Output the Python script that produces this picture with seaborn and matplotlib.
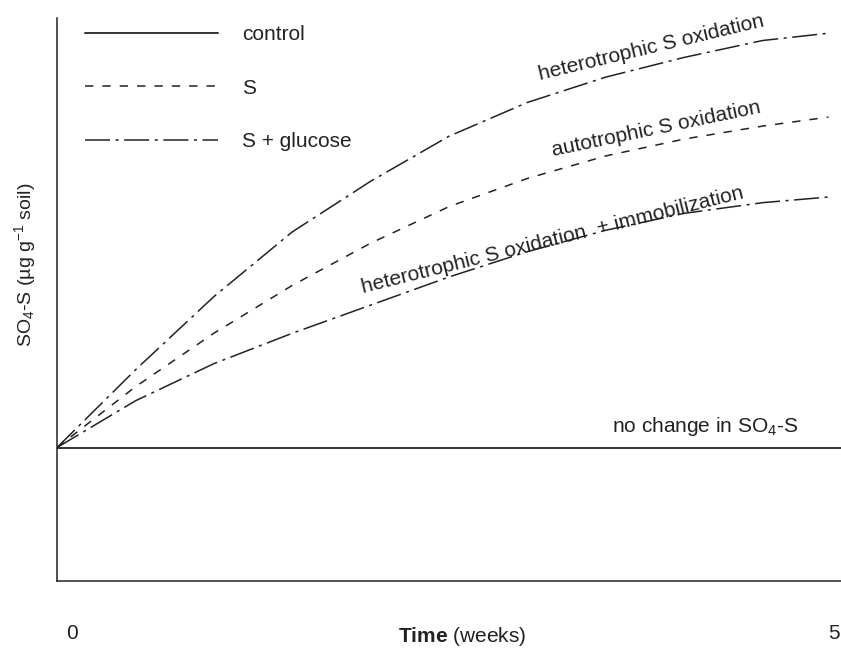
import numpy as np
import pandas as pd
import matplotlib
matplotlib.use("Agg")
import matplotlib.pyplot as plt
import matplotlib.transforms as mtransforms
import seaborn as sns

# значения (условные единицы SO4-S)
weeks = [0, 0.5, 1, 1.5, 2, 2.5, 3, 3.5, 4, 4.5, 4.92]
s_glucose_hetero = [23.7, 37.5, 50.5, 62, 71, 79, 85, 89.5, 93, 96, 97.3]
s_auto = [23.7, 34.5, 44, 52.5, 60, 66.5, 71.5, 75.5, 78.5, 80.8, 82.4]
s_glucose_immob = [23.7, 32, 38.6, 44, 49, 54, 58.5, 62.3, 65.3, 67.2, 68.2]
control_weeks = [0, 5]
control = [23.7, 23.7]
tick_weeks = [0, 5]
tick_labels = ["0", "5"]

sns.set_theme(style="white")
plt.rcParams["font.family"] = ["Liberation Sans", "DejaVu Sans"]
plt.rcParams["lines.scale_dashes"] = False
plt.rcParams["mathtext.fontset"] = "custom"
plt.rcParams["mathtext.rm"] = "Liberation Sans"
plt.rcParams["mathtext.it"] = "Liberation Sans:italic"
plt.rcParams["mathtext.bf"] = "Liberation Sans:bold"

ink = "#222222"
dashdot = (0, (18, 4, 2.2, 4))
dashed = (0, (6, 6.5))

fig = plt.figure(figsize=(8.41, 6.48), dpi=100)
ax = fig.add_axes([57 / 841, 1 - 581 / 648, 784 / 841, 563 / 648])

sns.lineplot(x=control_weeks, y=control, ax=ax, color="#333333", lw=1.4, label="control")
sns.lineplot(x=weeks, y=s_auto, ax=ax, color=ink, lw=1.1, ls=dashed, label="S")
sns.lineplot(x=weeks, y=s_glucose_hetero, ax=ax, color=ink, lw=1.1, ls=dashdot, label="S + glucose")
sns.lineplot(x=weeks, y=s_glucose_immob, ax=ax, color=ink, lw=1.1, ls=dashdot, label="_hidden")

ax.set_xlim(0, 5)
ax.set_ylim(0, 100)
ax.set_yticks([])
ax.set_xticks(tick_weeks)
ax.set_xticklabels(tick_labels, fontsize=15, color=ink)
ax.tick_params(axis="x", length=0, pad=31)
# сдвиг подписей 0 и 5 как в оригинале
for lab, dx in zip(ax.get_xticklabels(), [15, -7]):
    lab.set_transform(lab.get_transform() + mtransforms.ScaledTranslation(dx / 100, 0, fig.dpi_scale_trans))

for side in ["top", "right"]:
    ax.spines[side].set_visible(False)
for side in ["left", "bottom"]:
    ax.spines[side].set_color(ink)
    ax.spines[side].set_linewidth(1.1)

ax.set_xlabel(r"$\mathbf{Time}$ (weeks)", fontsize=15, color=ink, labelpad=0)
ax.xaxis.set_label_coords((462 - 57) / 784, -(625 - 581) / 563)
ax.set_ylabel(r"SO$_4$-S (µg g$^{-1}$ soil)", fontsize=14, color=ink)
ax.yaxis.set_label_coords((38 - 57) / 784, (581 - 265) / 563)

# подписи на кривых
ax.text(3.79, 94.7, "heterotrophic S oxidation", fontsize=15, color=ink,
        rotation=13.5, rotation_mode="anchor", ha="center", va="center")
ax.text(3.82, 80.3, "autotrophic S oxidation", fontsize=15, color=ink,
        rotation=11.8, rotation_mode="anchor", ha="center", va="center")
ax.text(3.16, 60.6, "heterotrophic S oxidation  + immobilization", fontsize=15, color=ink,
        rotation=14, rotation_mode="anchor", ha="center", va="center")
ax.text(3.54, 27.4, r"no change in SO$_4$-S", fontsize=15, color=ink, ha="left", va="center")

handles, labels = ax.get_legend_handles_labels()
keep = [(h, l) for h, l in zip(handles, labels) if not l.startswith("_")]
ax.legend([h for h, l in keep], [l for h, l in keep], loc="upper left",
          bbox_to_anchor=(28 / 784, 1 - 7 / 563), frameon=False, fontsize=15,
          handlelength=6.4, handletextpad=1.15, labelspacing=1.66,
          borderpad=0, borderaxespad=0, labelcolor=ink)

fig.savefig("out.png", dpi=100)
